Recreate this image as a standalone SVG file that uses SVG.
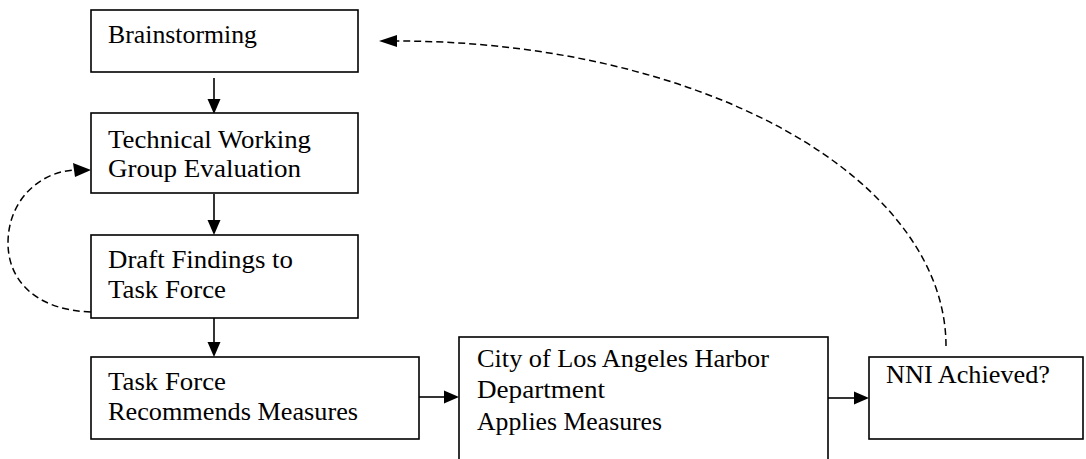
<svg xmlns="http://www.w3.org/2000/svg" width="1086" height="459" viewBox="0 0 1086 459">
<style>
  .box { fill: #ffffff; stroke: #000000; stroke-width: 1.6; }
  .lbl { font-family: "Liberation Serif", "Times New Roman", serif; font-size: 25px; fill: #000000; }
  .solid { fill: none; stroke: #000000; stroke-width: 1.6; }
  .dash { fill: none; stroke: #000000; stroke-width: 1.5; stroke-dasharray: 7 4; }
  .head { fill: #000000; stroke: none; }
</style>
<rect width="1086" height="459" fill="#ffffff"/>
<g id="connectors">
  <line class="solid" x1="214" y1="78" x2="214" y2="100"/>
  <polygon class="head" points="207.5,99 220.5,99 214,114"/>
  <line class="solid" x1="214" y1="194" x2="214" y2="222"/>
  <polygon class="head" points="207.5,220 220.5,220 214,235"/>
  <line class="solid" x1="214" y1="318" x2="214" y2="344"/>
  <polygon class="head" points="207.5,342 220.5,342 214,357"/>
  <line class="solid" x1="419" y1="397" x2="446" y2="397"/>
  <polygon class="head" points="444,390.5 444,403.5 459,397"/>
  <line class="solid" x1="828" y1="398" x2="856" y2="398"/>
  <polygon class="head" points="854,391.5 854,404.5 869,398"/>
  <path class="dash" d="M 946 346 A 549 305 0 0 0 396 41"/>
  <polygon class="head" points="397,35 397,47 379,41"/>
  <path class="dash" d="M 91 312 C 35 310, 8 280, 8 243 C 8 200, 40 172, 74 170"/>
  <polygon class="head" points="73,163 75,177 91,170"/>
</g>
<g id="brainstorming">
  <rect class="box" x="91" y="10" width="267" height="62"/>
  <text class="lbl" x="108" y="43" textLength="149" lengthAdjust="spacingAndGlyphs">Brainstorming</text>
</g>
<g id="twg">
  <rect class="box" x="91" y="113" width="267" height="80"/>
  <text class="lbl" x="108" y="148" textLength="203" lengthAdjust="spacingAndGlyphs">Technical Working</text>
  <text class="lbl" x="108" y="177" textLength="193" lengthAdjust="spacingAndGlyphs">Group Evaluation</text>
</g>
<g id="draft">
  <rect class="box" x="91" y="235" width="267" height="83"/>
  <text class="lbl" x="108" y="268" textLength="185" lengthAdjust="spacingAndGlyphs">Draft Findings to</text>
  <text class="lbl" x="108" y="298" textLength="118" lengthAdjust="spacingAndGlyphs">Task Force</text>
</g>
<g id="taskforce">
  <rect class="box" x="91" y="357" width="328" height="82"/>
  <text class="lbl" x="108" y="390" textLength="118" lengthAdjust="spacingAndGlyphs">Task Force</text>
  <text class="lbl" x="108" y="420" textLength="250" lengthAdjust="spacingAndGlyphs">Recommends Measures</text>
</g>
<g id="harbor">
  <rect class="box" x="459" y="337" width="369" height="140"/>
  <text class="lbl" x="477" y="367" textLength="292" lengthAdjust="spacingAndGlyphs">City of Los Angeles Harbor</text>
  <text class="lbl" x="477" y="398" textLength="128" lengthAdjust="spacingAndGlyphs">Department</text>
  <text class="lbl" x="477" y="430" textLength="185" lengthAdjust="spacingAndGlyphs">Applies Measures</text>
</g>
<g id="nni">
  <rect class="box" x="869" y="357" width="214" height="82"/>
  <text class="lbl" x="886" y="383" textLength="164" lengthAdjust="spacingAndGlyphs">NNI Achieved?</text>
</g>
</svg>
